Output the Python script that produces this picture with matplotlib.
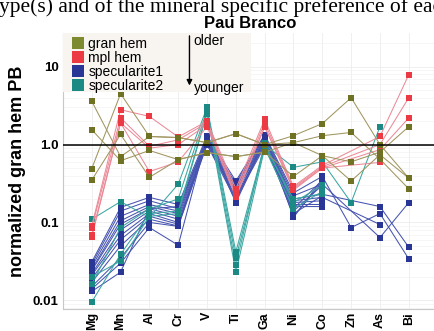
import numpy as np
import matplotlib
matplotlib.use("Agg")
import matplotlib.pyplot as plt
from matplotlib.lines import Line2D
from matplotlib.patches import Rectangle

elements = ["Mg", "Mn", "Al", "Cr", "V", "Ti", "Ga", "Ni", "Co", "Zn", "As", "Bi"]
nan = np.nan

gran_hem = [
    [3.6, 0.70, 1.27, 1.23, 1.06, 1.38, 1.0, 1.3, 1.86, 4.0, 1.0, 0.37],
    [1.55, 0.62, 0.84, 0.64, 0.79, 0.70, 0.8, 1.06, 1.3, 1.43, 0.65, 0.27],
    [0.49, 4.5, 1.27, 1.23, 1.06, 1.38, 1.0, 1.06, 0.72, 0.6, 0.8, 1.7],
    [0.35, 1.35, 0.38, 0.64, 0.79, 0.70, 0.8, 0.39, 0.72, 0.34, 0.74, 0.37],
]
mpl_hem = [
    [0.09, 2.8, 2.3, 1.25, 2.0, 0.27, 2.1, 0.29, 0.54, nan, 1.27, 7.9],
    [0.085, 2.2, 0.95, 1.15, 1.9, 0.24, 1.9, 0.28, 0.52, nan, 1.0, 4.0],
    [0.07, 1.9, 0.9, 1.0, 1.8, 0.22, 1.7, 0.27, 0.50, nan, 0.86, 2.2],
    [0.065, 1.9, 0.45, 0.6, 1.7, 0.21, 1.7, 0.26, 0.50, nan, 0.59, nan],
]
specularite1 = [
    [0.031, 0.156, 0.21, 0.17, 1.3, 0.34, 1.34, 0.24, 0.39, 0.086, 0.13, 0.034],
    [0.029, 0.14, 0.19, 0.15, 1.25, 0.30, 1.3, 0.22, 0.31, nan, 0.064, 0.18],
    [0.027, 0.12, 0.17, 0.14, 1.2, 0.28, 1.25, 0.20, 0.23, nan, 0.16, 0.048],
    [0.025, 0.105, 0.16, 0.13, 1.15, 0.26, 1.2, 0.19, 0.21, nan, 0.094, nan],
    [0.024, 0.095, 0.15, 0.12, 1.1, 0.25, 1.15, 0.18, 0.19, nan, nan, nan],
    [0.022, 0.08, 0.14, 0.11, 1.05, 0.24, 1.1, 0.17, 0.17, nan, nan, nan],
    [0.021, 0.068, 0.13, 0.10, 1.0, 0.22, 1.05, 0.16, 0.16, nan, nan, nan],
    [0.019, 0.06, 0.12, 0.095, 1.2, 0.21, 1.0, 0.15, 0.35, nan, nan, nan],
    [0.017, 0.05, 0.11, 0.09, 1.1, 0.20, 0.95, 0.14, 0.30, nan, nan, nan],
    [0.015, 0.035, 0.10, 0.089, 1.0, 0.19, 1.2, 0.13, 0.22, nan, nan, nan],
    [0.014, 0.03, 0.086, 0.051, 1.25, 0.18, 1.1, 0.12, 0.33, nan, nan, nan],
    [0.013, 0.023, 0.15, 0.16, 1.15, 0.32, 1.3, 0.116, 0.36, nan, nan, nan],
]
specularite2 = [
    [0.11, 0.185, 0.116, 0.31, 3.0, 0.042, 1.0, 0.51, 0.6, 0.18, 1.7, nan],
    [0.016, 0.086, 0.15, 0.2, 2.8, 0.035, 0.95, 0.2, 0.235, nan, nan, nan],
    [0.0095, 0.039, 0.13, 0.14, 2.6, 0.028, 1.05, 0.18, 0.3, nan, nan, nan],
    [0.02, 0.032, 0.12, 0.13, 2.5, 0.023, 0.9, 0.15, 0.25, nan, nan, nan],
]

groups = [
    ("specularite1", specularite1, "#2a3696", "#4654b0"),
    ("specularite2", specularite2, "#1c8a84", "#3aa6a2"),
    ("mpl hem", mpl_hem, "#ec3a44", "#ec8a98"),
    ("gran hem", gran_hem, "#6e7222", "#a09660"),
]
legend_order = ["gran hem", "mpl hem", "specularite1", "specularite2"]
legend_colors = {"gran hem": "#7e8a30", "mpl hem": "#ec3a44",
                 "specularite1": "#2a3696", "specularite2": "#1c8a84"}

fig = plt.figure(figsize=(4.34, 3.31), dpi=100)
ax = fig.add_axes([0.145, 0.066, 0.855, 0.834])

x = np.arange(len(elements))
z = 2
for name, series, mc, lc in groups:
    for s in series:
        s = np.asarray(s, dtype=float)
        ok = np.isfinite(s)
        ax.plot(x[ok], s[ok], color=lc, lw=0.75, zorder=z)
        ax.plot(x[ok], s[ok], ls="none", marker="s", ms=5, color=mc,
                markeredgewidth=0, zorder=z + 0.5)
    z += 1

ax.axhline(1.0, color="black", lw=1.1, zorder=10)

ax.set_yscale("log")
ax.set_ylim(0.0077, 27)
ax.set_xlim(-1.0, 11.875)
ax.set_xticks(x)
ax.set_xticklabels(elements, rotation=90, fontweight="bold", fontsize=9,
                   family="Liberation Sans")
ax.set_yticks([0.01, 0.1, 1.0, 10])
ax.set_yticklabels(["0.01", "0.1", "1.0", "10"], fontweight="bold", fontsize=9.5,
                   family="Liberation Sans")
ax.yaxis.set_minor_formatter(plt.NullFormatter())
ax.tick_params(axis="both", which="both", length=0, pad=3)
ax.tick_params(axis="x", pad=2)
ax.set_ylabel("normalized gran hem PB", fontweight="bold", fontsize=13,
              family="Liberation Sans", labelpad=5)

ax.grid(True, which="major", color="#ececec", lw=0.6, zorder=0)
ax.grid(True, which="minor", axis="y", color="#f3f3f3", lw=0.5, zorder=0)
for sp in ["top", "right"]:
    ax.spines[sp].set_visible(False)
for sp in ["left", "bottom"]:
    ax.spines[sp].set_color("#c8c8c8")
    ax.spines[sp].set_linewidth(0.8)

# legend box
ax.add_patch(Rectangle((0, 0.787), 0.507, 0.213, transform=ax.transAxes,
                       facecolor="#f8f5f1", edgecolor="none", zorder=11))
handles = [Line2D([], [], ls="none", marker="s", ms=8, color=legend_colors[n],
                  markeredgewidth=0) for n in legend_order]
leg = ax.legend(handles, legend_order, loc="upper left", frameon=False,
                prop={"family": "Liberation Sans", "size": 10},
                handlelength=0.8, handletextpad=0.3, labelspacing=0.0,
                borderaxespad=0.0, bbox_to_anchor=(0.012, 1.005))
leg.set_zorder(12)

ax.annotate("", xy=(0.341, 0.80), xytext=(0.341, 1.0), xycoords="axes fraction",
            arrowprops=dict(arrowstyle="-|>", color="black", lw=1.0,
                            mutation_scale=8), zorder=12)
ax.text(0.352, 0.995, "older", transform=ax.transAxes, va="top", ha="left",
        fontsize=10, family="Liberation Sans", zorder=12)
ax.text(0.352, 0.80, "younger", transform=ax.transAxes, va="center", ha="left",
        fontsize=10, family="Liberation Sans", zorder=12)

fig.text(0.577, 0.905, "Pau Branco", ha="center", va="bottom", fontweight="bold",
         fontsize=12, family="Liberation Sans")
fig.text(-0.017, 1 - 12 / 331, "type(s) and of the mineral specific preference of each",
         ha="left", va="baseline", fontsize=15.5, family="Liberation Serif")

fig.savefig("out.png", dpi=100)
